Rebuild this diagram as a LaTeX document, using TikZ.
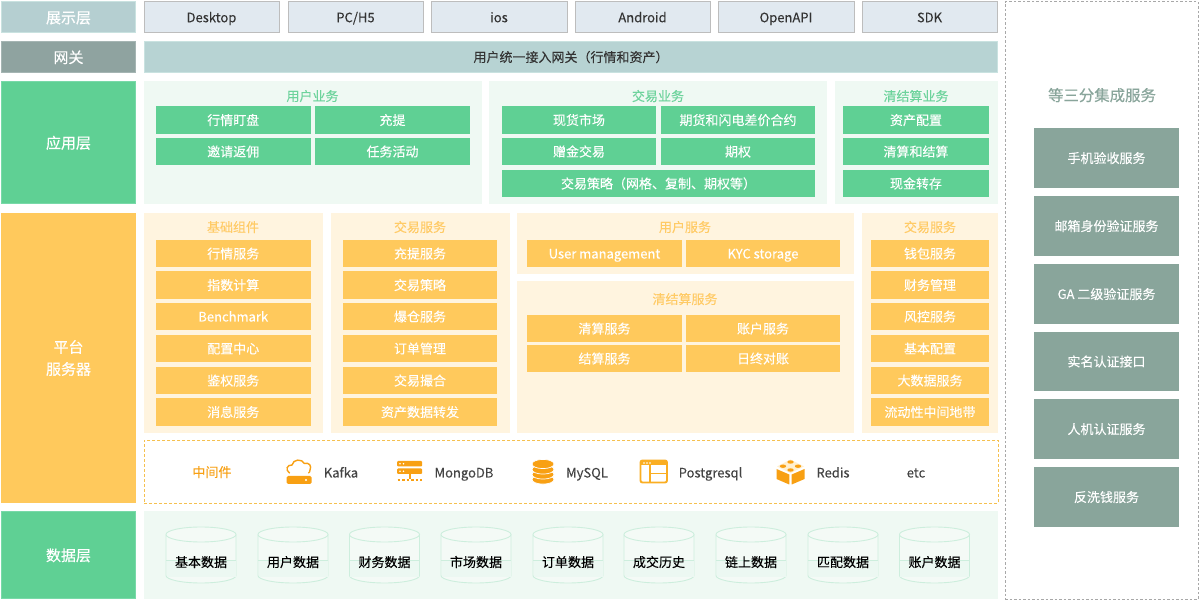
\documentclass[tikz,border=0pt]{standalone}
\usepackage{fontspec}
\setmainfont{Noto Sans CJK SC}[FakeBold=0.12]
\newfontfamily\headfont{Noto Sans CJK SC}[FakeBold=0.35]
\usetikzlibrary{shapes.geometric}
\definecolor{gn}{HTML}{5FD094}
\definecolor{gnl}{HTML}{EFF9F3}
\definecolor{gnt}{HTML}{6DD39C}
\definecolor{yl}{HTML}{FFC95C}
\definecolor{yll}{HTML}{FFF4DF}
\definecolor{ylt}{HTML}{FFCB66}
\definecolor{org}{HTML}{F8A013}
\definecolor{sg}{HTML}{89A59B}
\definecolor{HTMLb5cfd1}{HTML}{B5CFD1}
\definecolor{HTMLc9e2e0}{HTML}{C9E2E0}
\definecolor{HTML8fa3a0}{HTML}{8FA3A0}
\definecolor{HTMLa5b5b3}{HTML}{A5B5B3}
\definecolor{HTML78d9a8}{HTML}{78D9A8}
\definecolor{HTMLe1e9f0}{HTML}{E1E9F0}
\definecolor{HTMLbdbdbd}{HTML}{BDBDBD}
\definecolor{HTML333333}{HTML}{333333}
\definecolor{HTMLb7d3d3}{HTML}{B7D3D3}
\definecolor{HTMLF5C04F}{HTML}{F5C04F}
\definecolor{HTMLFAAE22}{HTML}{FAAE22}
\definecolor{HTMLa8a8a8}{HTML}{A8A8A8}
\definecolor{HTML444444}{HTML}{444444}
\definecolor{HTMLcdeedd}{HTML}{CDEEDD}
\definecolor{HTMLf4faf6}{HTML}{F4FAF6}
\definecolor{HTMLecf8f2}{HTML}{ECF8F2}
\definecolor{HTMLFFF0D0}{HTML}{FFF0D0}
\tikzset{
 base/.style={inner sep=0pt,outer sep=0pt,align=center,text height=10pt,text depth=0pt,font=\fontsize{13}{16}\selectfont},
 head/.style={base,font=\headfont\fontsize{15}{22}\selectfont,text=white,text height=12pt},
 headshow/.style={head,fill=HTMLb5cfd1,draw=HTMLc9e2e0,line width=1pt},
 headgw/.style={head,fill=HTML8fa3a0,draw=HTMLa5b5b3,line width=1pt},
 headgn/.style={head,fill=gn,draw=HTML78d9a8,line width=1pt},
 headyl/.style={head,fill=yl,text height={},text depth={}},
 client/.style={base,fill=HTMLe1e9f0,draw=HTMLbdbdbd,line width=1pt,text=HTML333333},
 gate/.style={base,fill=HTMLb7d3d3,draw=HTMLc9e2e0,line width=.8pt,text=HTML333333},
 panelg/.style={base,fill=gnl},
 panely/.style={base,fill=yll},
 gbox/.style={base,fill=gn,text=white},
 ybox/.style={base,fill=yl,text=white},
 gtitle/.style={base,text=gnt},
 ytitle/.style={base,text=ylt},
 mid/.style={base,draw=HTMLF5C04F,line width=.9pt,dash pattern=on 3pt off 2pt},
 outer/.style={base,draw=HTMLa8a8a8,line width=1pt,dash pattern=on 2.5pt off 2pt},
 sbox/.style={base,fill=sg,text=white},
 mtext/.style={base,text=HTML444444},
 dbtext/.style={base,text=black},
 cyl/.style={draw=HTMLcdeedd,line width=.9pt,fill=HTMLf4faf6},
 cyltint/.style={fill=HTMLecf8f2},
 diskst/.style={fill=org,draw=white,line width=.7pt},
}
% \BX{name}{style}{x1}{y1}{x2}{y2}{text}
\newcommand\BX[7]{%
 \pgfmathsetmacro\cxx{(#3+#5)/2}\pgfmathsetmacro\cyy{(#4+#6)/2}%
 \pgfmathsetmacro\ww{#5-#3}\pgfmathsetmacro\hh{#6-#4}%
 \node[#2,minimum width=\ww pt,minimum height=\hh pt] (#1) at (\cxx,\cyy) {#7};}
\newcommand\CYL[3]{%
 \draw[cyl] (#2-35,534.5) -- (#2-35,575.5) arc[start angle=180,end angle=360,x radius=35,y radius=-7.5] -- (#2+35,534.5);
 \fill[cyltint] (#2-34.5,560) rectangle (#2+34.5,577);
 \draw[HTMLcdeedd,line width=.5pt] (#2-35,560) -- (#2+35,560);
 \draw[cyl] (#2,534.5) ellipse[x radius=35,y radius=7.5];
 \node[dbtext,base] (#1) at (#2,562) {#3};}
\begin{document}
\begin{tikzpicture}[x=1pt,y=-1pt]
\useasboundingbox (0,0) rectangle (1200,601);
\fill[white] (0,0) rectangle (1200,601);
% rows 1-2
\BX{hshow}{headshow}{1.5}{1.5}{135.5}{33}{展示层}
\BX{c1}{client}{144}{1.5}{279}{33}{Desktop}
\BX{c2}{client}{288}{1.5}{423}{33}{PC/H5}
\BX{c3}{client}{431}{1.5}{567}{33}{ios}
\BX{c4}{client}{575}{1.5}{710}{33}{Android}
\BX{c5}{client}{718}{1.5}{854}{33}{OpenAPI}
\BX{c6}{client}{862}{1.5}{997}{33}{SDK}
\BX{hgw}{headgw}{1.5}{41.5}{135.5}{72.5}{网关}
\BX{gw}{gate}{144.5}{41.5}{997.5}{72.5}{用户统一接入网关（行情和资产）}
% app layer
\BX{happ}{headgn}{1.5}{81.5}{135.5}{203.5}{应用层}
\BX{pa1}{panelg}{144}{81}{482}{204}{}
\BX{pa2}{panelg}{489}{81}{827}{204}{}
\BX{pa3}{panelg}{835}{81}{998}{204}{}
\node[gtitle] (ta1) at (312.5,96) {用户业务};
\node[gtitle] (ta2) at (658,96) {交易业务};
\node[gtitle] (ta3) at (916,96) {清结算业务};
\BX{a11}{gbox}{156}{106}{310.5}{134}{行情盯盘}
\BX{a12}{gbox}{315}{106}{470}{134}{充提}
\BX{a13}{gbox}{156}{138}{310.5}{165}{邀请返佣}
\BX{a14}{gbox}{315}{138}{470}{165}{任务活动}
\BX{a21}{gbox}{502}{106}{656}{134}{现货市场}
\BX{a22}{gbox}{661}{106}{815}{134}{期货和闪电差价合约}
\BX{a23}{gbox}{502}{138}{656}{165}{赠金交易}
\BX{a24}{gbox}{661}{138}{815}{165}{期权}
\BX{a25}{gbox}{502}{170}{815}{197}{交易策略（网格、复制、期权等）}
\BX{a31}{gbox}{843}{106}{989}{134}{资产配置}
\BX{a32}{gbox}{843}{138}{989}{165}{清算和结算}
\BX{a33}{gbox}{843}{170}{989}{197}{现金转存}
% platform
\BX{hpl}{headyl}{1}{213}{136}{503}{平台\\服务器}
\BX{p1}{panely}{144}{213}{323}{433}{}
\BX{p2}{panely}{331}{213}{510}{433}{}
\BX{p3}{panely}{517}{213}{854}{274}{}
\BX{p4}{panely}{517}{281}{854}{433}{}
\BX{p5}{panely}{862}{213}{998}{433}{}
\node[ytitle] (t1) at (233,227) {基础组件};
\node[ytitle] (t2) at (420,227) {交易服务};
\node[ytitle] (t3) at (685,227) {用户服务};
\node[ytitle] (t4) at (685,299) {清结算服务};
\node[ytitle] (t5) at (930,227) {交易服务};
\BX{b1}{ybox}{156}{240}{310.5}{267}{行情服务}
\BX{b2}{ybox}{156}{271}{310.5}{299}{指数计算}
\BX{b3}{ybox}{156}{303}{310.5}{330}{Benchmark}
\BX{b4}{ybox}{156}{335}{310.5}{362}{配置中心}
\BX{b5}{ybox}{156}{367}{310.5}{394}{鉴权服务}
\BX{b6}{ybox}{156}{398}{310.5}{426}{消息服务}
\BX{d1}{ybox}{343}{240}{497}{267}{充提服务}
\BX{d2}{ybox}{343}{271}{497}{299}{交易策略}
\BX{d3}{ybox}{343}{303}{497}{330}{爆仓服务}
\BX{d4}{ybox}{343}{335}{497}{362}{订单管理}
\BX{d5}{ybox}{343}{367}{497}{394}{交易撮合}
\BX{d6}{ybox}{343}{398}{497}{426}{资产数据转发}
\BX{u1}{ybox}{527}{240}{682}{267}{User management}
\BX{u2}{ybox}{686}{240}{840}{267}{KYC storage}
\BX{s1}{ybox}{527}{315}{682}{342}{清算服务}
\BX{s2}{ybox}{686}{315}{840}{342}{账户服务}
\BX{s3}{ybox}{527}{345}{682}{372}{结算服务}
\BX{s4}{ybox}{686}{345}{840}{372}{日终对账}
\BX{e1}{ybox}{871}{240}{989}{267}{钱包服务}
\BX{e2}{ybox}{871}{271}{989}{299}{财务管理}
\BX{e3}{ybox}{871}{303}{989}{330}{风控服务}
\BX{e4}{ybox}{871}{335}{989}{362}{基本配置}
\BX{e5}{ybox}{871}{367}{989}{394}{大数据服务}
\BX{e6}{ybox}{871}{398}{989}{426}{流动性中间地带}
% middleware
\BX{mw}{mid}{144}{440}{998}{503}{}
\node[base,text=org] (m0) at (212,472) {中间件};
\node[mtext] (m1) at (341,472.5) {Kafka};
\node[mtext] (m2) at (464,472.5) {MongoDB};
\node[mtext] (m3) at (587,472.5) {MySQL};
\node[mtext] (m4) at (710.5,472.5) {Postgresql};
\node[mtext] (m5) at (833,472.5) {Redis};
\node[mtext] (m6) at (916,472.5) {etc};
% kafka icon
\draw[org,line width=1.4pt,line cap=round] (289.5,473) .. controls (285,470) and (287,464.5) .. (292,465) .. controls (293,459) and (302,458.5) .. (304.5,463.5) .. controls (309,462) and (312,466) .. (310,470) .. controls (310,471.5) and (309.5,472.5) .. (308.5,473);
\fill[org,rounded corners=1.5pt] (286.5,476) rectangle (311.5,484);
\fill[white] (306,480) circle[radius=1.2];
% mongodb icon
\fill[org,rounded corners=1pt] (397,461) rectangle (422,466.5);
\fill[org,rounded corners=1pt] (397,468.5) rectangle (422,474);
\fill[org] (408.5,474) rectangle (410.5,479.5);
\draw[org,line width=1.2pt,dash pattern=on 2.5pt off 2pt] (397.5,480) -- (422,480);
\foreach \yy in {463.7,471.2} {\fill[white] (400,\yy) circle[radius=.9] (403.5,\yy) circle[radius=.9];}
% mysql icon
\foreach \yy in {479.5,474.5,469.5,464} {\draw[diskst] (543,\yy) ellipse[x radius=11,y radius=4.6];}
% postgres icon
\draw[HTMLFAAE22,line width=1.9pt,rounded corners=2pt,fill=white] (640.5,460.5) rectangle (667,482.5);
\fill[HTMLFAAE22] (640.5,460.5) rectangle (667,465.5);
\foreach \xx in {644,647,650} {\fill[white] (\xx,463) circle[radius=.8];}
\draw[HTMLFAAE22,line width=1.3pt] (650,465) -- (650,482.5) (650,473.5) -- (667,473.5);
% redis icon
\fill[org] (776.5,469) -- (789.3,474.5) -- (789.3,484.5) -- (776.5,479) -- cycle;
\fill[org] (804.5,469) -- (791.7,474.5) -- (791.7,484.5) -- (804.5,479) -- cycle;
\fill[HTMLFFF0D0] (790.5,459.5) -- (804,466.5) -- (790.5,473) -- (777,466.5) -- cycle;
\fill[org] (790.5,462) ellipse[x radius=3.2,y radius=1.7] (783,466.2) ellipse[x radius=3.2,y radius=1.7] (798,466.2) ellipse[x radius=3.2,y radius=1.7] (790.5,470) ellipse[x radius=3.2,y radius=1.7];
% data
\BX{hdb}{headgn}{1.5}{511.5}{135.5}{598.5}{数据层}
\BX{pdb}{panelg}{144}{511}{998}{599}{}
\CYL{db1}{201}{基本数据}
\CYL{db2}{293}{用户数据}
\CYL{db3}{384.5}{财务数据}
\CYL{db4}{476}{市场数据}
\CYL{db5}{568}{订单数据}
\CYL{db6}{659}{成交历史}
\CYL{db7}{751}{链上数据}
\CYL{db8}{843}{匹配数据}
\CYL{db9}{934.5}{账户数据}
% right
\BX{rt}{outer}{1005}{2}{1198}{599}{}
\node[base,font=\headfont\fontsize{15.4}{19}\selectfont,text=sg,text height=12pt] (rtt) at (1102,95) {等三分集成服务};
\BX{r1}{sbox}{1034}{128}{1179}{188}{手机验收服务}
\BX{r2}{sbox}{1034}{196}{1179}{256}{邮箱身份验证服务}
\BX{r3}{sbox}{1034}{264}{1179}{324}{GA 二级验证服务}
\BX{r4}{sbox}{1034}{332}{1179}{391}{实名认证接口}
\BX{r5}{sbox}{1034}{399}{1179}{459}{人机认证服务}
\BX{r6}{sbox}{1034}{467}{1179}{527}{反洗钱服务}
\end{tikzpicture}
\end{document}
